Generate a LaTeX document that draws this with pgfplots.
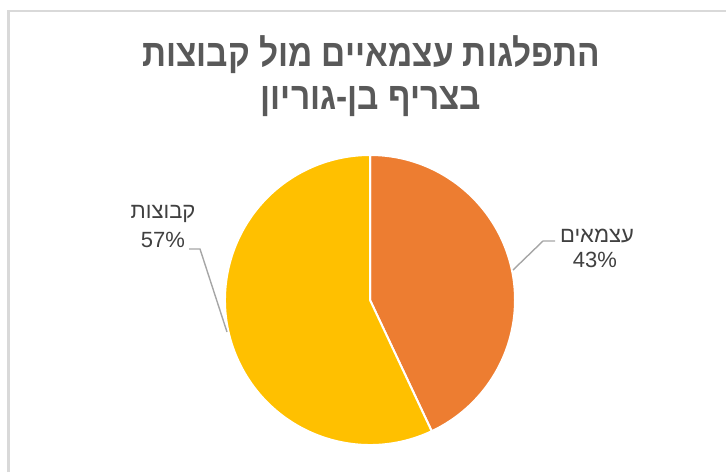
\documentclass[border=0pt]{standalone}
\usepackage{fontspec}
\usepackage{pgfplots}
\usepackage{pgfplotstable}
\pgfplotsset{compat=1.18}
\setmainfont{Liberation Sans}
\newfontfamily\heb[Script=Hebrew]{Liberation Sans}
\newfontfamily\hebtitle[Script=Hebrew,FakeStretch=0.88]{Liberation Sans}
\TeXXeTstate=1

\definecolor{sliceorange}{HTML}{ED7D31}
\definecolor{sliceyellow}{HTML}{FFC000}
\definecolor{txtgray}{HTML}{595959}
\definecolor{lblgray}{HTML}{404040}
\definecolor{leadgray}{HTML}{A6A6A6}
\definecolor{framegray}{HTML}{D9D9D9}

% share of each group (percent)
\pgfplotstableread{
name value
A 43
B 57
}\piedata

\begin{document}
\begin{tikzpicture}
\useasboundingbox (0,0) rectangle (726pt,472pt);
\pgfplotstablegetelem{0}{value}\of\piedata
\pgfmathsetmacro{\va}{\pgfplotsretval}
\pgfmathsetmacro{\aend}{90-3.6*\va}
\begin{axis}[
    at={(0,0)}, anchor=origin,
    scale only axis,
    width=726pt, height=472pt,
    xmin=0, xmax=726, ymin=0, ymax=472,
    hide axis,
    clip=false,
]
% chart frame
\draw[framegray, line width=2.5pt] (axis cs:8.5,0) -- (axis cs:8.5,461) -- (axis cs:726,461);

% slices
\fill[sliceorange, draw=white, line width=2pt]
    (axis cs:370,172) -- ++(90:145pt) arc[start angle=90, end angle=\aend, radius=145pt] -- cycle;
\fill[sliceyellow, draw=white, line width=2pt]
    (axis cs:370,172) -- ++(\aend:145pt) arc[start angle=\aend, end angle=-270, radius=145pt] -- cycle;

% leader lines
\draw[leadgray, line width=1.4pt] (axis cs:189,223) -- (axis cs:200,223) -- (axis cs:227,140);
\draw[leadgray, line width=1.4pt] (axis cs:555,231) -- (axis cs:543,231) -- (axis cs:513,202);

% title
\node[anchor=base, text=txtgray, font=\hebtitle\bfseries\fontsize{38}{44}\selectfont]
    at (axis cs:371,405) {\beginR התפלגות עצמאיים מול קבוצות\endR};
\node[anchor=base, text=txtgray, font=\hebtitle\bfseries\fontsize{38}{44}\selectfont]
    at (axis cs:371,362) {\beginR בצריף בן-גוריון\endR};

% data labels
\node[anchor=base, text=lblgray, font=\heb\fontsize{22}{26}\selectfont]
    at (axis cs:163,253) {\beginR קבוצות\endR};
\node[anchor=base, text=lblgray, font=\fontsize{22}{26}\selectfont]
    at (axis cs:163,224) {57\%};
\node[anchor=base, text=lblgray, font=\heb\fontsize{22}{26}\selectfont]
    at (axis cs:597,229) {\beginR עצמאים\endR};
\node[anchor=base, text=lblgray, font=\fontsize{22}{26}\selectfont]
    at (axis cs:595,204) {43\%};
\end{axis}
\end{tikzpicture}
\end{document}
